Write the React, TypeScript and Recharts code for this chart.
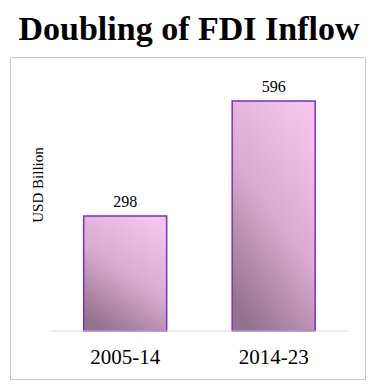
import { Bar, BarChart, LabelList, XAxis, YAxis } from "recharts";

const periods = ["2005-14", "2014-23"];
const inflows = [298, 596];

const data = periods.map((period, i) => ({ period, value: inflows[i] }));

const FONT = '"Liberation Serif", "Times New Roman", serif';

export default function App() {
  return (
    <div
      style={{
        position: "absolute",
        left: 0,
        top: 0,
        width: 378,
        height: 391,
        background: "#fff",
        fontFamily: FONT,
      }}
    >
      <div
        style={{
          position: "absolute",
          left: 0,
          top: 9,
          width: 378,
          textAlign: "center",
          fontSize: 34,
          fontWeight: "bold",
          lineHeight: "40px",
          color: "#000",
        }}
      >
        Doubling of FDI Inflow
      </div>
      <div
        style={{
          position: "absolute",
          left: 10,
          top: 57,
          width: 356,
          height: 323,
          border: "1.5px solid #c8c8c8",
          boxSizing: "border-box",
        }}
      />
      <div
        style={{
          position: "absolute",
          left: 38,
          top: 185,
          transform: "translate(-50%, -50%) rotate(-90deg)",
          fontSize: 15,
          whiteSpace: "nowrap",
          color: "#000",
        }}
      >
        USD Billion
      </div>
      <div style={{ position: "absolute", left: 0, top: 0 }}>
        <BarChart
          width={378}
          height={391}
          data={data}
          margin={{ top: 61, right: 30, bottom: 30, left: 51 }}
          barCategoryGap="22%"
        >
          <defs>
            {/* pink top-right fading to muted mauve at bottom-left */}
            <linearGradient id="barFill" x1="0.75" y1="0" x2="0.25" y2="1">
              <stop offset="0%" stopColor="#f5c4ea" />
              <stop offset="50%" stopColor="#d9a9cf" />
              <stop offset="100%" stopColor="#93728e" />
            </linearGradient>
          </defs>
          <XAxis
            dataKey="period"
            tickLine={false}
            axisLine={{ stroke: "#d9d9d9" }}
            tickMargin={12}
            height={30}
            tick={{ fontSize: 21, fill: "#000", fontFamily: FONT }}
          />
          <YAxis hide domain={[0, 700]} />
          <Bar
            dataKey="value"
            fill="url(#barFill)"
            stroke="#7a2fbf"
            strokeWidth={1.5}
            isAnimationActive={false}
          >
            <LabelList
              dataKey="value"
              position="top"
              offset={9}
              style={{ fontSize: 16, fill: "#000", fontFamily: FONT }}
            />
          </Bar>
        </BarChart>
      </div>
    </div>
  );
}
